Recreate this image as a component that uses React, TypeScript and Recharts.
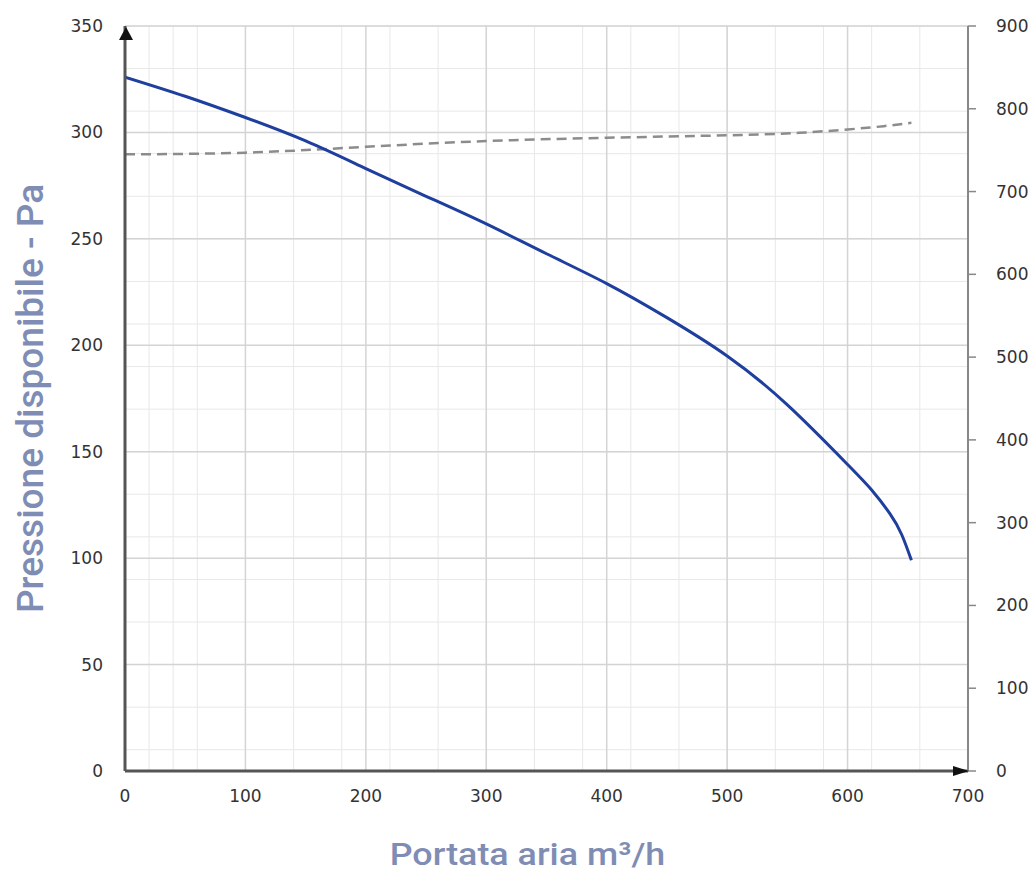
import React from 'react';
import {
  ComposedChart,
  Line,
  XAxis,
  YAxis,
  CartesianGrid,
  ReferenceDot,
} from 'recharts';

// Blue curve: available pressure (Pa) vs air flow (m3/h)
const flowPressure = [0, 50, 100, 150, 200, 250, 300, 350, 400, 450, 500, 550, 600, 620, 635, 645, 653];
const pressure = [326, 317, 307, 296, 283, 270, 257, 243, 229, 213, 195, 172, 144, 132, 121, 111, 99];

// Dashed curve (right axis)
const flowSecond = [0, 100, 200, 300, 400, 500, 560, 600, 630, 653];
const secondValues = [745, 747, 754, 761, 765, 768, 771, 775, 779, 783];

const xTicks = [0, 100, 200, 300, 400, 500, 600, 700];
const leftTicks = [0, 50, 100, 150, 200, 250, 300, 350];
const rightTicks = [0, 100, 200, 300, 400, 500, 600, 700, 800, 900];

const xMinor = [0, 20, 40, 60, 80, 100, 120, 140, 160, 180, 200, 220, 240, 260, 280, 300, 320, 340, 360, 380, 400, 420, 440, 460, 480, 500, 520, 540, 560, 580, 600, 620, 640, 660, 680, 700];
const yMinor = [0, 10, 20, 30, 40, 50, 60, 70, 80, 90, 100, 110, 120, 130, 140, 150, 160, 170, 180, 190, 200, 210, 220, 230, 240, 250, 260, 270, 280, 290, 300, 310, 320, 330, 340, 350];

const pressureData = flowPressure.map((q, i) => ({ q, p: pressure[i] }));
const secondData = flowSecond.map((q, i) => ({ q, v: secondValues[i] }));

const labelColor = '#7f8db5';
const tickStyle = { fontFamily: 'DejaVu Sans, Verdana, sans-serif', fontSize: 17, fill: '#333' };

const YLabel = (props: any) => {
  const vb = props.viewBox || {};
  const cx = vb.x + 43;
  const cy = vb.y + vb.height / 2;
  return (
    <text
      x={cx}
      y={cy}
      transform={`rotate(-90, ${cx}, ${cy})`}
      textAnchor="middle"
      fill={labelColor}
      style={{ fontFamily: 'Roboto, sans-serif', fontSize: 37, fontWeight: 500 }}
    >
      Pressione disponibile - Pa
    </text>
  );
};

const XLabel = (props: any) => {
  const vb = props.viewBox || {};
  const cx = vb.x + vb.width / 2 - 19;
  const by = vb.y + 94;
  return (
    <text
      x={cx}
      y={by}
      transform={`translate(${cx}, 0) scale(1.12, 1) translate(${-cx}, 0)`}
      textAnchor="middle"
      fill={labelColor}
      style={{ fontFamily: 'Roboto, sans-serif', fontSize: 32, fontWeight: 500 }}
    >
      Portata aria m³/h
    </text>
  );
};

const UpArrow = (props: any) => {
  const { cx, cy } = props;
  if (cx == null || cy == null) return null;
  return <path d={`M${cx + 1},${cy + 1} L${cx - 6},${cy + 14} L${cx + 8},${cy + 14} Z`} fill="#111" />;
};

const RightArrow = (props: any) => {
  const { cx, cy } = props;
  if (cx == null || cy == null) return null;
  return <path d={`M${cx + 1},${cy} L${cx - 15},${cy - 5} L${cx - 15},${cy + 5} Z`} fill="#111" />;
};

export default function App() {
  return (
    <div style={{ position: 'absolute', left: 0, top: 0, width: 1028, height: 875, background: '#fff' }}>
      <ComposedChart width={1028} height={875} margin={{ top: 26, right: 0, bottom: 0, left: 0 }}>
        <CartesianGrid stroke="#e8e8e8" strokeWidth={1} verticalValues={xMinor} horizontalValues={yMinor} />
        <CartesianGrid stroke="#d4d4d4" strokeWidth={1.5} verticalValues={xTicks} horizontalValues={leftTicks} />
        <XAxis
          type="number"
          dataKey="q"
          domain={[0, 700]}
          ticks={xTicks}
          allowDataOverflow
          height={104}
          tickSize={0}
          tickLine={false}
          tickMargin={19}
          tick={tickStyle}
          axisLine={{ stroke: '#555', strokeWidth: 3 }}
          label={<XLabel />}
        />
        <YAxis
          type="number"
          domain={[0, 350]}
          ticks={leftTicks}
          allowDataOverflow
          width={125}
          tickSize={0}
          tickLine={false}
          tickMargin={22}
          tick={tickStyle}
          axisLine={{ stroke: '#555', strokeWidth: 3 }}
          label={<YLabel />}
        />
        <YAxis
          yAxisId="right"
          orientation="right"
          type="number"
          domain={[0, 900]}
          ticks={rightTicks}
          allowDataOverflow
          width={60}
          tickSize={8}
          tickMargin={14}
          tick={{ ...tickStyle, dx: 6 }}
          tickLine={{ stroke: '#888', strokeWidth: 1.5 }}
          axisLine={{ stroke: '#888', strokeWidth: 2 }}
        />
        <Line
          yAxisId="right"
          data={secondData}
          dataKey="v"
          type="natural"
          stroke="#8c8c8c"
          strokeWidth={2.5}
          strokeDasharray="10 6"
          dot={false}
          activeDot={false}
          isAnimationActive={false}
        />
        <Line
          data={pressureData}
          dataKey="p"
          type="natural"
          stroke="#1f3f9f"
          strokeWidth={3}
          dot={false}
          activeDot={false}
          isAnimationActive={false}
        />
        <ReferenceDot x={0} y={350} r={0} ifOverflow="visible" shape={<UpArrow />} />
        <ReferenceDot x={700} y={0} r={0} ifOverflow="visible" shape={<RightArrow />} />
      </ComposedChart>
    </div>
  );
}
